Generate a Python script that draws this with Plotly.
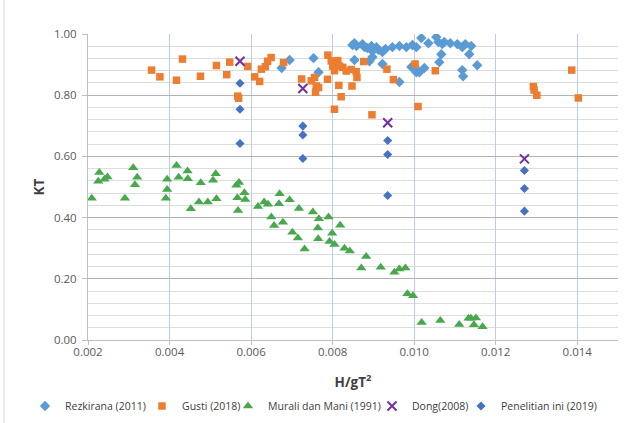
import plotly.graph_objects as go

# ---- data: H/gT^2 (x) and KT (y) for each study ----
rez_x = [0.006749, 0.006945, 0.007532, 0.007655, 0.008536, 0.008585, 0.008487, 0.008536,
         0.008732, 0.008781, 0.008854, 0.008952, 0.008977, 0.009075, 0.009124, 0.009222,
         0.009295, 0.008903, 0.008977, 0.009222, 0.009466, 0.009638, 0.009809, 0.009956,
         0.010054, 0.010176, 0.010348, 0.010543, 0.010592, 0.010690, 0.010739, 0.010886,
         0.011058, 0.011180, 0.011253, 0.011400, 0.011351, 0.010666, 0.010617, 0.009931,
         0.010010, 0.010054, 0.010127, 0.010250, 0.011180, 0.011200, 0.011547, 0.009638]
rez_y = [0.889, 0.915, 0.921, 0.875, 0.970, 0.961, 0.964, 0.915,
         0.967, 0.957, 0.954, 0.961, 0.944, 0.957, 0.948, 0.941,
         0.951, 0.911, 0.925, 0.902, 0.957, 0.961, 0.957, 0.964,
         0.957, 0.987, 0.970, 0.990, 0.974, 0.967, 0.974, 0.970,
         0.967, 0.957, 0.967, 0.961, 0.934, 0.934, 0.908, 0.892,
         0.895, 0.875, 0.875, 0.889, 0.882, 0.862, 0.898, 0.843]

gus_x = [0.003559, 0.003763, 0.004318, 0.004171, 0.004759, 0.005151, 0.005403, 0.005476,
         0.005917, 0.005672, 0.005696, 0.006088, 0.006211, 0.006252, 0.006350, 0.006406,
         0.006492, 0.006798, 0.007239, 0.007476, 0.007557, 0.007598, 0.007655, 0.007581,
         0.007875, 0.007883, 0.007966, 0.008127, 0.008005, 0.008169, 0.008250, 0.008046,
         0.008333, 0.008455, 0.008578, 0.008597, 0.008152, 0.008475, 0.008210, 0.008046,
         0.008764, 0.009332, 0.009491, 0.008965, 0.010022, 0.010095, 0.010519, 0.012925,
         0.012942, 0.013009, 0.013865, 0.014027]
gus_y = [0.882, 0.860, 0.918, 0.849, 0.862, 0.897, 0.867, 0.908,
         0.894, 0.797, 0.790, 0.860, 0.845, 0.885, 0.893, 0.911,
         0.923, 0.907, 0.853, 0.847, 0.858, 0.830, 0.825, 0.810,
         0.852, 0.931, 0.912, 0.913, 0.895, 0.895, 0.891, 0.880,
         0.879, 0.884, 0.877, 0.858, 0.832, 0.830, 0.795, 0.754,
         0.910, 0.885, 0.851, 0.736, 0.902, 0.763, 0.880, 0.828,
         0.817, 0.800, 0.882, 0.791]

mur_x = [0.002091, 0.002277, 0.002252, 0.002404, 0.002477, 0.002906, 0.003109, 0.003207,
         0.003151, 0.003909, 0.003941, 0.003941, 0.004171, 0.004223, 0.004441, 0.004448,
         0.004521, 0.004722, 0.004766, 0.004938, 0.005067, 0.005133, 0.005151, 0.005640,
         0.005704, 0.005665, 0.005679, 0.005836, 0.005856, 0.006169, 0.006321, 0.006414,
         0.006497, 0.006565, 0.006700, 0.006683, 0.006781, 0.006945, 0.007013, 0.007148,
         0.007173, 0.007312, 0.007515, 0.007662, 0.007638, 0.007647, 0.007900, 0.007990,
         0.007924, 0.008046, 0.008186, 0.008291, 0.008421, 0.008822, 0.008703, 0.009180,
         0.009515, 0.009638, 0.009785, 0.009834, 0.009973, 0.010184, 0.010641, 0.011106,
         0.011334, 0.011393, 0.011515, 0.011466, 0.011677]
mur_y = [0.463, 0.547, 0.519, 0.525, 0.533, 0.463, 0.563, 0.532,
         0.507, 0.463, 0.525, 0.492, 0.570, 0.532, 0.552, 0.527,
         0.429, 0.451, 0.514, 0.451, 0.522, 0.543, 0.462, 0.506,
         0.515, 0.465, 0.423, 0.481, 0.459, 0.436, 0.451, 0.444,
         0.402, 0.374, 0.478, 0.445, 0.385, 0.458, 0.352, 0.333,
         0.430, 0.297, 0.418, 0.396, 0.366, 0.331, 0.402, 0.349,
         0.322, 0.312, 0.375, 0.300, 0.291, 0.273, 0.235, 0.238,
         0.221, 0.232, 0.235, 0.151, 0.145, 0.057, 0.064, 0.051,
         0.071, 0.071, 0.072, 0.050, 0.043]

dong_x = [0.005728, 0.007270, 0.009351, 0.012705]
dong_y = [0.911, 0.822, 0.710, 0.592]

pen_x = [0.005728, 0.005728, 0.005728, 0.007270, 0.007270, 0.007270,
         0.009351, 0.009351, 0.009351, 0.012705, 0.012705, 0.012705]
pen_y = [0.839, 0.754, 0.642, 0.699, 0.670, 0.593,
         0.652, 0.606, 0.472, 0.554, 0.495, 0.421]

series_names = ["Rezkirana (2011)", "Gusti (2018)", "Murali dan Mani (1991)",
                "Dong(2008)", "Penelitian ini (2019)"]

x_ticks = [0.002, 0.004, 0.006, 0.008, 0.010, 0.012, 0.014]
x_tick_text = ["0.002", "0.004", "0.006", "0.008", "0.010", "0.012", "0.014"]
y_ticks = [0.0, 0.2, 0.4, 0.6, 0.8, 1.0]
y_tick_text = ["0.00", "0.20", "0.40", "0.60", "0.80", "1.00"]

FONT = "Open Sans"
TXT = "#595959"

fig = go.Figure()

fig.add_trace(go.Scatter(x=rez_x, y=rez_y, mode="markers", name=series_names[0],
                         marker=dict(symbol="diamond", size=8, color="#5B9BD5"),
                         legend="legend"))
fig.add_trace(go.Scatter(x=gus_x, y=gus_y, mode="markers", name=series_names[1],
                         marker=dict(symbol="square", size=7.5, color="#ED7D31"),
                         legend="legend2"))
fig.add_trace(go.Scatter(x=mur_x, y=mur_y, mode="markers", name=series_names[2],
                         marker=dict(symbol="triangle-up", size=9, color="#47A84C"),
                         legend="legend3"))
fig.add_trace(go.Scatter(x=dong_x, y=dong_y, mode="markers", name=series_names[3],
                         marker=dict(symbol="x-thin", size=9, color="#7030A0",
                                     line=dict(color="#7030A0", width=2)),
                         legend="legend4"))
fig.add_trace(go.Scatter(x=pen_x, y=pen_y, mode="markers", name=series_names[4],
                         marker=dict(symbol="diamond", size=7, color="#4472C4"),
                         legend="legend5"))

# plot area geometry (pixels) used to place the legend entries
W, H = 641, 423
ML, MR, MT, MB = 88, 23, 34, 83
PW = W - ML - MR
PH = H - MT - MB
# horizontal pixel position of each legend entry's symbol
symbol_centres = [45, 162, 248, 392, 481]
leg_y = (PH + MT - 406) / PH

legend_common = dict(orientation="h", yanchor="middle", y=leg_y, xanchor="left",
                     font=dict(family=FONT, size=10.5, color="#404040"),
                     bgcolor="rgba(0,0,0,0)", borderwidth=0, itemwidth=30)
legends = {}
for i, sc in enumerate(symbol_centres):
    key = "legend" if i == 0 else f"legend{i + 1}"
    legends[key] = dict(legend_common, x=(sc - 20 - ML) / PW)

fig.update_layout(
    width=W, height=H,
    margin=dict(l=ML, r=MR, t=MT, b=MB, autoexpand=False),
    paper_bgcolor="white", plot_bgcolor="white",
    font=dict(family=FONT, size=11, color=TXT),
    showlegend=True,
    **legends,
    xaxis=dict(
        range=[0.002, 0.015], tickvals=x_ticks, ticktext=x_tick_text,
        showgrid=True, gridcolor="#BCCDEA", gridwidth=1,
        showline=True, linecolor="#BFBFBF", linewidth=1,
        ticks="outside", ticklen=4, tickcolor="#BFBFBF",
        ticklabelstandoff=-3,
        tickfont=dict(family=FONT, size=11.5, color=TXT),
        zeroline=False,
        title=dict(text="<b>H/gT<sup>2</sup></b>", standoff=19,
                   font=dict(family=FONT, size=13.5, color="#404040")),
    ),
    yaxis=dict(
        range=[0, 1], tickvals=y_ticks, ticktext=y_tick_text,
        showgrid=True, gridcolor="#B3B3B3", gridwidth=1,
        minor=dict(dtick=0.04, showgrid=True, gridcolor="#DDDDDD", gridwidth=1),
        showline=True, linecolor="#BFBFBF", linewidth=1,
        ticks="outside", ticklen=5, tickcolor="#BFBFBF",
        ticklabelstandoff=3,
        tickfont=dict(family=FONT, size=11.5, color=TXT),
        zeroline=False,
        title=dict(text="<b>KT</b>", standoff=6,
                   font=dict(family=FONT, size=13.5, color="#404040")),
    ),
)

# chart frame edge on the left side
fig.add_shape(type="line", xref="paper", yref="paper",
              x0=(4 - ML) / PW, x1=(4 - ML) / PW,
              y0=(PH + MT - H) / PH, y1=(PH + MT) / PH,
              line=dict(color="#D9D9D9", width=1))

fig.write_html("out.html")
